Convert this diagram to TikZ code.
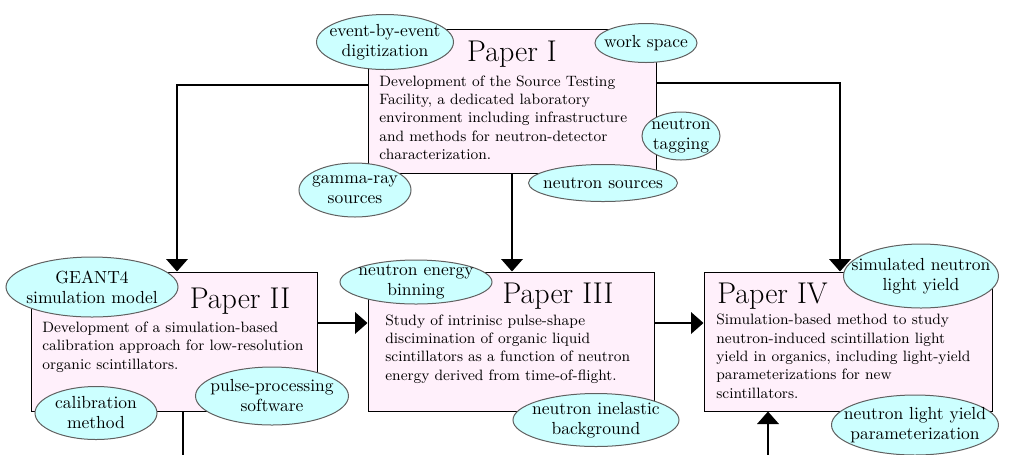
\documentclass[tikz,border=0pt]{standalone}
\usetikzlibrary{shapes.geometric,arrows.meta}
\definecolor{boxpink}{RGB}{255,240,251}
\definecolor{ellcyan}{RGB}{204,255,255}
\definecolor{ellborder}{RGB}{96,96,96}
\begin{document}
\begin{tikzpicture}[x=0.6pt,y=-0.6pt,
  paperbox/.style 2 args={rectangle, draw=black, line width=0.6pt, fill=boxpink,
    minimum width=#1*0.6pt, minimum height=#2*0.6pt, inner sep=0pt},
  tag/.style 2 args={ellipse, draw=ellborder, line width=0.6pt, fill=ellcyan,
    minimum width=#1*0.6pt, minimum height=#2*0.6pt, inner sep=-14pt,
    align=center, font=\fontsize{10.5}{12}\selectfont},
  title/.style={font=\fontsize{18}{22}\selectfont, inner sep=0pt},
  body/.style={font=\small, align=left, inner sep=0pt},
  conn/.style={line width=0.9pt, -{Triangle[width=13pt,length=7.5pt]}},
  plainline/.style={line width=0.9pt}]

\useasboundingbox (0,0) rectangle (1013,454);

% boxes
\node[paperbox={288}{144}] (p1) at (512,101) {};
\node[paperbox={286}{139}] (p2) at (174,341.5) {};
\node[paperbox={286}{139}] (p3) at (511,341.5) {};
\node[paperbox={288}{139}] (p4) at (848,341.5) {};

% titles
\node[title, anchor=base] (h1) at (512,61.5) {Paper I};
\node[title, anchor=base] (h2) at (240,308) {Paper II};
\node[title, anchor=base] (h3) at (558,303) {Paper III};
\node[title, anchor=base west] (h4) at (717,303) {Paper IV};

% body texts (anchor base = baseline of the last line)
\node[body, anchor=base west] (d1) at (379,159.5) {Development of the Source Testing\\Facility, a dedicated laboratory\\environment including infrastructure\\and methods for neutron-detector\\characterization.};
\node[body, anchor=base west] (d2) at (42,369) {Development of a simulation-based\\calibration approach for low-resolution\\organic scintillators.};
\node[body, anchor=base west] (d3) at (385,380) {Study of intrinisc pulse-shape\\discimination of organic liquid\\scintillators as a function of neutron\\energy derived from time-of-flight.};
\node[body, anchor=base west] (d4) at (716,398) {Simulation-based method to study\\neutron-induced scintillation light\\yield in organics, including light-yield\\parameterizations for new\\scintillators.};

% connectors
\coordinate (c1) at (177,85);
\coordinate (c2) at (840,83);
\coordinate (c3) at (340,323);
\coordinate (b1) at (183,470);
\coordinate (b2) at (768,470);
\draw[conn] (c1 -| p1.west) -- (c1) -- (c1 |- p2.north);
\draw[conn] (c2 -| p1.east) -- (c2) -- (c2 |- p4.north);
\draw[conn] (p1.south) -- (p1.south |- p3.north);
\draw[conn] (c3 -| p2.east) -- (c3 -| p3.west);
\draw[conn] (c3 -| p3.east) -- (c3 -| p4.west);
\draw[plainline] (b1 |- p2.south) -- (b1);
\draw[conn] (b2) -- (b2 |- p4.south);

% keyword ellipses
\node[tag={137}{55}] (t1) at (385,42) {event-by-event\\digitization};
\node[tag={102}{39}] (t2) at (646,43) {work space};
\node[tag={78}{48}] (t3) at (681,136) {neutron\\tagging};
\node[tag={112}{54}] (t4) at (355,190) {gamma-ray\\sources};
\node[tag={149}{37}] (t5) at (603,183) {neutron sources};
\node[tag={172}{60}] (t6) at (92,287) {GEANT4\\simulation model};
\node[tag={122}{53}] (t7) at (96,413) {calibration\\method};
\node[tag={153}{58}] (t8) at (272,396) {pulse-processing\\software};
\node[tag={152}{44}] (t9) at (416,282) {neutron energy\\binning};
\node[tag={166}{53}] (t10) at (596,420) {neutron inelastic\\background};
\node[tag={155}{64}] (t11) at (921,276) {simulated neutron\\light yield};
\node[tag={167}{60}] (t12) at (915,425) {neutron light yield\\parameterization};
\end{tikzpicture}
\end{document}
